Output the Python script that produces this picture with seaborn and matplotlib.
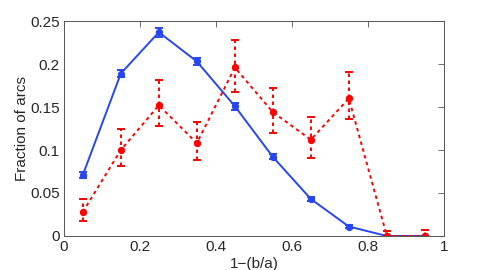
import numpy as np
import pandas as pd
import matplotlib
matplotlib.use('Agg')
import matplotlib.pyplot as plt
import seaborn as sns

# bin centres of 1-(b/a)
x_bins = [0.05, 0.15, 0.25, 0.35, 0.45, 0.55, 0.65, 0.75, 0.85, 0.95]

# blue series (solid)
blue_y = [0.071, 0.189, 0.237, 0.203, 0.151, 0.092, 0.043, 0.011, 0.0, 0.0]
blue_err = [0.003, 0.004, 0.005, 0.004, 0.004, 0.003, 0.002, 0.0015, 0.0005, 0.0005]

# red series (dashed), asymmetric errors
red_y = [0.028, 0.100, 0.152, 0.108, 0.196, 0.144, 0.112, 0.160, 0.0, 0.0]
red_lo = [0.018, 0.081, 0.128, 0.088, 0.168, 0.120, 0.091, 0.136, 0.0, 0.0]
red_hi = [0.043, 0.124, 0.181, 0.133, 0.228, 0.172, 0.138, 0.191, 0.006, 0.007]

blue_c = '#2846f0'
red_c = '#ff0000'

df = pd.DataFrame({'x': x_bins, 'blue': blue_y, 'red': red_y})

sns.set_style('white')
plt.rcParams['font.family'] = ['Liberation Sans', 'DejaVu Sans']

fig = plt.figure(figsize=(4.91, 2.70), dpi=100)
ax = fig.add_axes([0.130, 0.126, 0.774, 0.796])

ax.errorbar(x_bins, blue_y, yerr=blue_err, fmt='none', ecolor=blue_c,
            elinewidth=1.4, capsize=3, capthick=1.4)
sns.lineplot(data=df, x='x', y='blue', ax=ax, color=blue_c, lw=1.4,
             marker='o', markersize=4.5, markeredgecolor=blue_c)

red_err = [np.array(red_y) - np.array(red_lo), np.array(red_hi) - np.array(red_y)]
eb = ax.errorbar(x_bins, red_y, yerr=red_err, fmt='none', ecolor=red_c,
                 elinewidth=1.4, capsize=3, capthick=1.4)
for coll in eb[2]:
    coll.set_linestyle((0, (1.8, 1.8)))
sns.lineplot(data=df, x='x', y='red', ax=ax, color=red_c, lw=1.4,
             linestyle=(0, (1.8, 1.8)), marker='o', markersize=4.5,
             markeredgecolor=red_c)

ax.set_xlim(0, 1)
ax.set_ylim(0, 0.25)
ax.set_xticks([0, 0.2, 0.4, 0.6, 0.8, 1])
ax.set_xticklabels(['0', '0.2', '0.4', '0.6', '0.8', '1'])
ax.set_yticks([0, 0.05, 0.1, 0.15, 0.2, 0.25])
ax.set_yticklabels(['0', '0.05', '0.1', '0.15', '0.2', '0.25'])
ax.tick_params(direction='in', top=True, right=True, length=4, width=0.6,
               color='#555555', labelsize=11, pad=3)
for s in ax.spines.values():
    s.set_color('#555555')
    s.set_linewidth(0.7)
ax.set_xlabel('1\u2212(b/a)', fontsize=11, labelpad=2)
ax.set_ylabel('Fraction of arcs', fontsize=11, labelpad=1)
ax.grid(False)

fig.savefig('out.png', dpi=100)
